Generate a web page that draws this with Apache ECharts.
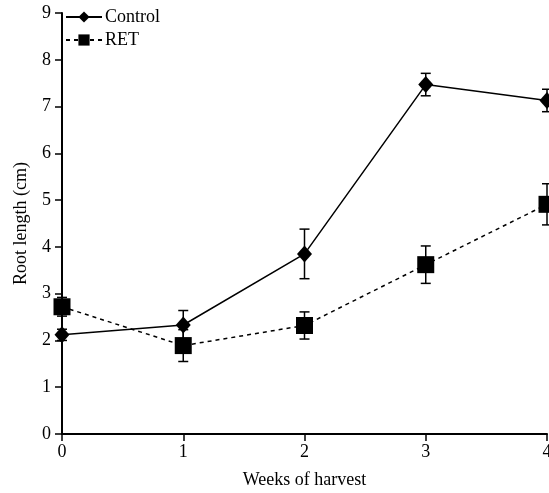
<!DOCTYPE html>
<html>
<head>
<meta charset="utf-8">
<script src="https://cdn.jsdelivr.net/npm/echarts@6/dist/echarts.min.js"></script>
<style>
  html, body { margin: 0; padding: 0; background: #fff; }
  #chart { width: 549px; height: 493px; }
</style>
</head>
<body>
<div id="chart"></div>
<script>
// weeks of harvest
const weeks = [0, 1, 2, 3, 4];
const controlMean = [2.12, 2.33, 3.85, 7.47, 7.13];
const controlErr = [0.12, 0.31, 0.53, 0.24, 0.24];
const retMean = [2.72, 1.89, 2.32, 3.62, 4.91];
const retErr = [0.2, 0.34, 0.29, 0.4, 0.44];
const yTicks = [0, 1, 2, 3, 4, 5, 6, 7, 8, 9];

const font = "Liberation Serif";

function errorSeries(mean, err) {
  return {
    type: "custom",
    z: 1,
    silent: true,
    data: weeks.map((w, i) => [w, mean[i] - err[i], mean[i] + err[i]]),
    renderItem: function (params, api) {
      let x = api.value(0);
      let lo = api.coord([x, api.value(1)]);
      let hi = api.coord([x, api.value(2)]);
      let cap = 5;
      let st = { stroke: "#000", lineWidth: 1.5 };
      return {
        type: "group",
        children: [
          { type: "line", shape: { x1: lo[0], y1: lo[1], x2: hi[0], y2: hi[1] }, style: st },
          { type: "line", shape: { x1: lo[0] - cap, y1: lo[1], x2: lo[0] + cap, y2: lo[1] }, style: st },
          { type: "line", shape: { x1: hi[0] - cap, y1: hi[1], x2: hi[0] + cap, y2: hi[1] }, style: st }
        ]
      };
    }
  };
}

let chart = echarts.init(document.getElementById("chart"));
chart.setOption({
  animation: false,
  grid: { left: 62, right: 2, top: 13, bottom: 59, outerBoundsMode: "none" },
  legend: {
    orient: "vertical",
    left: 60,
    top: 3,
    itemWidth: 36,
    itemHeight: 14,
    itemGap: 5,
    textStyle: { fontFamily: font, fontSize: 18, color: "#000", padding: [0, 0, 0, -2] },
    data: ["Control", "RET"]
  },
  xAxis: {
    type: "value",
    min: 0,
    max: 4,
    interval: 1,
    name: "Weeks of harvest",
    nameLocation: "middle",
    nameGap: 37,
    nameTextStyle: { fontFamily: font, fontSize: 18, color: "#000" },
    axisLine: { lineStyle: { color: "#000", width: 2 } },
    axisTick: { inside: false, length: 7, lineStyle: { color: "#000", width: 1.5 } },
    axisLabel: { fontFamily: font, fontSize: 18, color: "#000", margin: 9 },
    splitLine: { show: false }
  },
  yAxis: {
    type: "value",
    min: 0,
    max: 9,
    interval: 1,
    name: "Root length (cm)",
    nameLocation: "middle",
    nameRotate: 90,
    nameGap: 32,
    nameTextStyle: { fontFamily: font, fontSize: 18, color: "#000" },
    axisLine: { show: true, lineStyle: { color: "#000", width: 2 } },
    axisTick: { show: true, length: 7, lineStyle: { color: "#000", width: 1.5 } },
    axisLabel: {
      fontFamily: font, fontSize: 18, color: "#000", margin: 11,
      formatter: v => (yTicks.includes(v) ? String(v) : "")
    },
    splitLine: { show: false }
  },
  series: [
    errorSeries(controlMean, controlErr),
    errorSeries(retMean, retErr),
    {
      name: "Control",
      type: "line",
      z: 3,
      data: weeks.map((w, i) => [w, controlMean[i]]),
      symbol: "diamond",
      symbolSize: [15, 17],
      itemStyle: { color: "#000" },
      lineStyle: { color: "#000", width: 1.5 }
    },
    {
      name: "RET",
      type: "line",
      z: 2,
      data: weeks.map((w, i) => [w, retMean[i]]),
      symbol: "rect",
      symbolSize: 17,
      itemStyle: { color: "#000" },
      lineStyle: { color: "#000", width: 1.5, type: [4, 4] }
    }
  ]
});
</script>
</body>
</html>
